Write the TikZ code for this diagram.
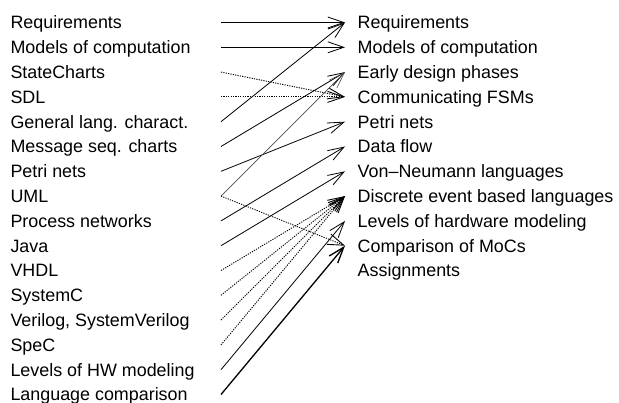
\documentclass[tikz,border=0pt]{standalone}
\usepackage{fontspec}
\setmainfont{Liberation Sans}
\usetikzlibrary{arrows.meta}
\begin{document}
\begin{tikzpicture}[x=1pt,y=1pt,
  lbl/.style={anchor=base west,inner sep=0pt,font=\fontsize{17.9}{20}\selectfont},
  conn/.style={line width=0.8pt,-{Straight Barb[length=16pt,width=11pt]}},
  dotconn/.style={conn,line width=0.9pt,dash pattern=on 1.2pt off 1.2pt},
  thinconn/.style={conn,line width=0.6pt,black!70},
  thickconn/.style={conn,line width=1.3pt}]
\useasboundingbox (0,0) rectangle (619,-403);
\foreach \t [count=\i from 0] in {Requirements,Models of computation,StateCharts,SDL,General lang. charact.,Message seq. charts,Petri nets,UML,Process networks,Java,VHDL,SystemC,{Verilog, SystemVerilog},SpeC,Levels of HW modeling,Language comparison}{
  \pgfmathsetmacro{\yy}{-(22.5+24.8*\i)}
  \node[lbl] (l\i) at (10.3,\yy-6.4) {\t};
  \coordinate (ls\i) at (221,\yy);
}
\foreach \t [count=\i from 0] in {Requirements,Models of computation,Early design phases,Communicating FSMs,Petri nets,Data flow,Von\textendash Neumann languages,Discrete event based languages,Levels of hardware modeling,Comparison of MoCs,Assignments}{
  \pgfmathsetmacro{\yy}{-(22.5+24.8*\i)}
  \node[lbl] (r\i) at (357.5,\yy-6.4) {\t};
  \coordinate (rt\i) at (345,\yy);
}
\draw[conn] (ls0) -- (rt0);
\draw[conn] (ls1) -- (rt1);
\draw[dotconn] (ls2) -- (rt3);
\draw[dotconn] (ls3) -- (rt3);
\draw[conn] (ls4) -- (rt0);
\draw[conn] (ls5) -- (rt2);
\draw[conn] (ls6) -- (rt4);
\draw[thinconn] (ls7) -- (rt2);
\draw[dotconn] (ls7) -- (rt9);
\draw[conn] (ls8) -- (rt5);
\draw[conn] (ls9) -- (rt6);
\draw[dotconn] (ls10) -- (rt7);
\draw[dotconn] (ls11) -- (rt7);
\draw[dotconn] (ls12) -- (rt7);
\draw[dotconn] (ls13) -- (rt7);
\draw[conn] (ls14) -- (rt8);
\draw[thickconn] (ls15) -- (rt9);
\end{tikzpicture}
\end{document}
